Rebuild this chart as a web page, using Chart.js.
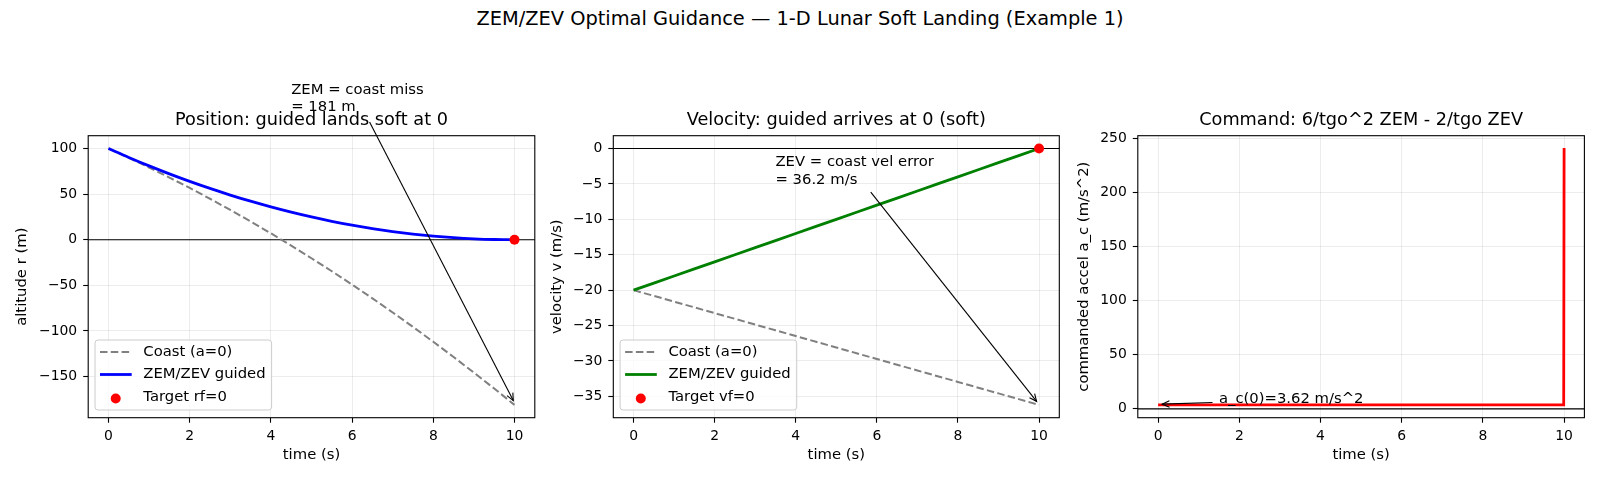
<!DOCTYPE html>
<html>
<head>
<meta charset="utf-8">
<title>ZEM/ZEV guidance</title>
<script src="https://cdn.jsdelivr.net/npm/chart.js@4.4.1/dist/chart.umd.min.js"></script>
<style>
  html, body { margin: 0; padding: 0; background: #fff; }
  #fig { position: relative; width: 1600px; height: 480px; overflow: hidden; background: #fff;
         font-family: "DejaVu Sans", sans-serif; }
  #suptitle { position: absolute; left: 0; top: 7px; width: 1600px; text-align: center;
              font-size: 19.4px; line-height: 24px; color: #000; }
  .panel { position: absolute; top: 0; height: 480px; }
</style>
</head>
<body>
<div id="fig">
  <div id="suptitle">ZEM/ZEV Optimal Guidance — 1-D Lunar Soft Landing (Example 1)</div>
  <div class="panel" style="left:0px;width:545px"><canvas id="posChart"></canvas></div>
  <div class="panel" style="left:545px;width:525px"><canvas id="velChart"></canvas></div>
  <div class="panel" style="left:1070px;width:530px"><canvas id="cmdChart"></canvas></div>
</div>
<script>
// ---- data ----
const timeGrid = [0, 0.5, 1, 1.5, 2, 2.5, 3, 3.5, 4, 4.5, 5, 5.5, 6, 6.5, 7, 7.5, 8, 8.5, 9, 9.5, 10];
const coastAlt = [100, 89.8, 79.19, 68.18, 56.76, 44.94, 32.71, 20.08, 7.04, -6.4, -20.25,
                  -34.5, -49.16, -64.22, -79.69, -95.56, -111.84, -128.52, -145.61, -163.1, -181];
const guidedAlt = [100, 90.25, 81, 72.25, 64, 56.25, 49, 42.25, 36, 30.25, 25,
                   20.25, 16, 12.25, 9, 6.25, 4, 2.25, 1, 0.25, 0];
const coastVel = [-20, -20.81, -21.62, -22.43, -23.24, -24.05, -24.86, -25.67, -26.48, -27.29, -28.1,
                  -28.91, -29.72, -30.53, -31.34, -32.15, -32.96, -33.77, -34.58, -35.39, -36.2];
const guidedVel = [-20, -19, -18, -17, -16, -15, -14, -13, -12, -11, -10,
                   -9, -8, -7, -6, -5, -4, -3, -2, -1, 0];
const targetTime = [10];
const targetAlt = [0];
const targetVel = [0];
const cmdTime = [0, 9.99, 10];
const cmdAccel = [3.62, 3.62, 241];

const timeTicks = [0, 2, 4, 6, 8, 10];
const altTicks = [-150, -100, -50, 0, 50, 100];
const velTicks = [-35, -30, -25, -20, -15, -10, -5, 0];
const accelTicks = [0, 50, 100, 150, 200, 250];

// ---- styling ----
const FONT = "DejaVu Sans";
const TICK_PX = 13.9;
const TEXT_PX = 14.8;
const TITLE_PX = 17.7;
const GRID = "rgba(176,176,176,0.3)";
const PLOT_TOP = 135.7;
const PLOT_BOTTOM = 417.7;
const CANVAS_H = 480;

const pts = (xs, ys) => xs.map((x, i) => ({ x: x, y: ys[i] }));
const fmtTick = (v) => (v < 0 ? "\u2212" + Math.abs(v) : String(v));

function drawArrow(ctx, x1, y1, x2, y2) {
  ctx.beginPath();
  ctx.moveTo(x1, y1);
  ctx.lineTo(x2, y2);
  ctx.stroke();
  const a = Math.atan2(y2 - y1, x2 - x1);
  const L = 8, W = 0.42;
  ctx.beginPath();
  ctx.moveTo(x2 - L * Math.cos(a - W), y2 - L * Math.sin(a - W));
  ctx.lineTo(x2, y2);
  ctx.lineTo(x2 - L * Math.cos(a + W), y2 - L * Math.sin(a + W));
  ctx.stroke();
}

// zero line, frame, subplot title, legend and arrow annotation
const figurePlugin = {
  id: "figure",
  beforeDatasetsDraw(chart) {
    const { ctx, chartArea: ca, scales } = chart;
    const y0 = scales.y.getPixelForValue(0);
    ctx.save();
    ctx.strokeStyle = "#000";
    ctx.lineWidth = 1.1;
    ctx.beginPath();
    ctx.moveTo(ca.left, y0);
    ctx.lineTo(ca.right, y0);
    ctx.stroke();
    ctx.restore();
  },
  afterDraw(chart, args, opts) {
    const { ctx, chartArea: ca, scales } = chart;
    const sx = (v) => scales.x.getPixelForValue(v);
    const sy = (v) => scales.y.getPixelForValue(v);
    ctx.save();

    // frame
    ctx.strokeStyle = "#000";
    ctx.lineWidth = 1.1;
    ctx.strokeRect(ca.left, ca.top, ca.right - ca.left, ca.bottom - ca.top);

    // subplot title
    ctx.fillStyle = "#000";
    ctx.font = TITLE_PX + "px '" + FONT + "'";
    ctx.textAlign = "center";
    ctx.textBaseline = "middle";
    ctx.fillText(opts.title, (ca.left + ca.right) / 2, ca.top - 15.7);

    // legend
    if (opts.legend) {
      ctx.font = TEXT_PX + "px '" + FONT + "'";
      const items = chart.data.datasets;
      const boxL = ca.left + 6.8;
      const boxB = ca.bottom - 7.7;
      const boxT = boxB - 70;
      let maxW = 0;
      items.forEach((d) => { maxW = Math.max(maxW, ctx.measureText(d.label).width); });
      const boxR = boxL + 48.3 + maxW + 6;
      ctx.fillStyle = "rgba(255,255,255,0.8)";
      ctx.strokeStyle = "#cccccc";
      ctx.lineWidth = 1;
      ctx.beginPath();
      ctx.roundRect(boxL, boxT, boxR - boxL, boxB - boxT, 3);
      ctx.fill();
      ctx.stroke();
      items.forEach((d, i) => {
        const cy = boxT + 12 + i * 22.5;
        if (d.showLine === false) {
          ctx.fillStyle = d.backgroundColor;
          ctx.beginPath();
          ctx.arc(boxL + 20.7, cy + 1.5, 5, 0, Math.PI * 2);
          ctx.fill();
        } else {
          ctx.strokeStyle = d.borderColor;
          ctx.lineWidth = d.borderWidth;
          ctx.setLineDash(d.borderDash || []);
          ctx.beginPath();
          ctx.moveTo(boxL + 5, cy);
          ctx.lineTo(boxL + 36.7, cy);
          ctx.stroke();
          ctx.setLineDash([]);
        }
        ctx.fillStyle = "#000";
        ctx.textAlign = "left";
        ctx.textBaseline = "middle";
        ctx.fillText(d.label, boxL + 48.3, cy);
      });
    }

    // annotation
    const an = opts.note;
    if (an) {
      ctx.fillStyle = "#000";
      ctx.font = TEXT_PX + "px '" + FONT + "'";
      ctx.textAlign = "left";
      ctx.textBaseline = "middle";
      an.lines.forEach((t, i) => ctx.fillText(t, sx(an.textX), sy(an.lineY[i])));
      ctx.strokeStyle = "#000";
      ctx.lineWidth = 1.1;
      drawArrow(ctx, sx(an.from[0]), sy(an.from[1]), sx(an.to[0]), sy(an.to[1]));
    }
    ctx.restore();
  },
};

function makeScales(p) {
  const tickFont = { family: FONT, size: TICK_PX };
  const labelFont = { family: FONT, size: TEXT_PX };
  const gridOpts = { color: GRID, lineWidth: 0.8, tickColor: "#000", tickLength: 5, tickWidth: 1.1 };
  return {
    x: {
      type: "linear",
      min: -0.5,
      max: 10.5,
      afterBuildTicks: (s) => { s.ticks = timeTicks.map((v) => ({ value: v })); },
      afterFit: (s) => { s.height = CANVAS_H - PLOT_BOTTOM; },
      grid: gridOpts,
      border: { display: false },
      ticks: { color: "#000", font: tickFont, padding: 5, maxRotation: 0, callback: fmtTick },
      title: { display: true, text: "time (s)", color: "#000", font: labelFont, padding: { top: 0, bottom: 16.1 } },
    },
    y: {
      type: "linear",
      min: p.yMin,
      max: p.yMax,
      afterBuildTicks: (s) => { s.ticks = p.yTicks.map((v) => ({ value: v })); },
      afterFit: (s) => { s.width = p.plotLeft - p.canvasLeft; },
      grid: gridOpts,
      border: { display: false },
      ticks: { color: "#000", font: tickFont, padding: 6, callback: fmtTick },
      title: { display: true, text: p.yLabel, color: "#000", font: labelFont, padding: { top: p.yLabelPad, bottom: 0 } },
    },
  };
}

function makeChart(id, p, datasets) {
  return new Chart(document.getElementById(id), {
    type: "line",
    data: { datasets: datasets },
    options: {
      responsive: true,
      maintainAspectRatio: false,
      animation: false,
      events: [],
      layout: { padding: { top: PLOT_TOP, left: 0, bottom: 0, right: p.canvasLeft + p.canvasWidth - p.plotRight } },
      scales: makeScales(p),
      plugins: {
        legend: { display: false },
        tooltip: { enabled: false },
        figure: { title: p.title, legend: p.legend, note: p.note },
      },
    },
    plugins: [figurePlugin],
  });
}

const coastStyle = { borderColor: "#808080", borderWidth: 2, borderDash: [7.5, 3.3], pointRadius: 0, order: 3 };
const targetStyle = { showLine: false, pointRadius: 5, backgroundColor: "#ff0000", borderColor: "#ff0000", borderWidth: 0, order: 1 };

makeChart("posChart", {
  canvasLeft: 0, canvasWidth: 545, plotLeft: 88.2, plotRight: 534.8,
  yMin: -195.05, yMax: 114.05, yTicks: altTicks,
  yLabel: "altitude r (m)", yLabelPad: 13.5,
  title: "Position: guided lands soft at 0", legend: true,
  note: { lines: ["ZEM = coast miss", "= 181 m"], textX: 4.5, lineY: [164.3, 145.3], from: [6.43, 129], to: [9.97, -176.3] },
}, [
  Object.assign({ label: "Coast (a=0)", data: pts(timeGrid, coastAlt) }, coastStyle),
  { label: "ZEM/ZEV guided", data: pts(timeGrid, guidedAlt), borderColor: "#0000ff", borderWidth: 2.8,
    pointRadius: 0, cubicInterpolationMode: "monotone", order: 2 },
  Object.assign({ label: "Target rf=0", data: pts(targetTime, targetAlt) }, targetStyle),
]);

makeChart("velChart", {
  canvasLeft: 545, canvasWidth: 525, plotLeft: 613.3, plotRight: 1059.3,
  yMin: -38.01, yMax: 1.81, yTicks: velTicks,
  yLabel: "velocity v (m/s)", yLabelPad: 3.0,
  title: "Velocity: guided arrives at 0 (soft)", legend: true,
  note: { lines: ["ZEV = coast vel error", "= 36.2 m/s"], textX: 3.5, lineY: [-1.93, -4.41], from: [5.85, -6.15], to: [9.94, -35.7] },
}, [
  Object.assign({ label: "Coast (a=0)", data: pts(timeGrid, coastVel) }, coastStyle),
  { label: "ZEM/ZEV guided", data: pts(timeGrid, guidedVel), borderColor: "#008000", borderWidth: 2.8,
    pointRadius: 0, order: 2 },
  Object.assign({ label: "Target vf=0", data: pts(targetTime, targetVel) }, targetStyle),
]);

makeChart("cmdChart", {
  canvasLeft: 1070, canvasWidth: 530, plotLeft: 1137.8, plotRight: 1584.4,
  yMin: -8.2, yMax: 252.4, yTicks: accelTicks,
  yLabel: "commanded accel a_c (m/s^2)", yLabelPad: 5.1,
  title: "Command: 6/tgo^2 ZEM - 2/tgo ZEV", legend: false,
  note: { lines: ["a_c(0)=3.62 m/s^2"], textX: 1.5, lineY: [9.2], from: [1.34, 5.8], to: [0.1, 4.3] },
}, [
  { label: "a_c", data: pts(cmdTime, cmdAccel), borderColor: "#ff0000", borderWidth: 2.8, pointRadius: 0, order: 1 },
]);
</script>
</body>
</html>
